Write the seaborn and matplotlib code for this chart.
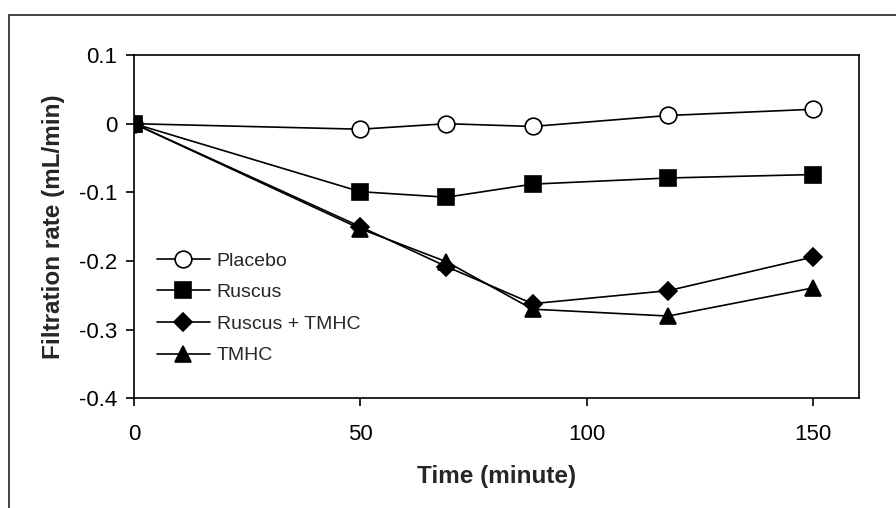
import pandas as pd
import seaborn as sns
import matplotlib.pyplot as plt
from matplotlib.patches import Rectangle

# data
time = [0, 50, 69, 88, 118, 150]
placebo = [0.0, -0.008, 0.0, -0.004, 0.012, 0.021]
ruscus = [0.0, -0.099, -0.107, -0.088, -0.079, -0.074]
ruscus_tmhc = [0.0, -0.150, -0.208, -0.262, -0.243, -0.194]
tmhc = [0.0, -0.153, -0.201, -0.270, -0.280, -0.239]

series = {
    "Placebo": placebo,
    "Ruscus": ruscus,
    "Ruscus + TMHC": ruscus_tmhc,
    "TMHC": tmhc,
}

rows = []
for name, vals in series.items():
    for t, v in zip(time, vals):
        rows.append({"group": name, "time": t, "rate": v})
df = pd.DataFrame(rows)

sns.set_style("ticks")
plt.rcParams["font.family"] = ["Liberation Sans", "DejaVu Sans"]

fig = plt.figure(figsize=(8.96, 5.08), dpi=100)
ax = fig.add_axes([0.1496, 0.2156, 0.9582 - 0.1496, 0.8917 - 0.2156])

styles = {
    "Placebo": dict(marker="o", markersize=12, markerfacecolor="white"),
    "Ruscus": dict(marker="s", markersize=11, markerfacecolor="black"),
    "Ruscus + TMHC": dict(marker="D", markersize=9, markerfacecolor="black"),
    "TMHC": dict(marker="^", markersize=12, markerfacecolor="black"),
}

for name in series:
    sub = df[df["group"] == name]
    sns.lineplot(data=sub, x="time", y="rate", ax=ax, color="black",
                 linewidth=1.2, markeredgecolor="black", markeredgewidth=1.2,
                 label=name, **styles[name])

ax.set_xlim(0, 160)
ax.set_ylim(-0.4, 0.1)
ax.set_xticks([0, 50, 100, 150])
ax.set_yticks([0.1, 0, -0.1, -0.2, -0.3, -0.4])
ax.set_yticklabels(["0.1", "0", "-0.1", "-0.2", "-0.3", "-0.4"])

for side in ["left", "bottom", "top", "right"]:
    ax.spines[side].set_linewidth(1.2)
    ax.spines[side].set_color("black")
ax.tick_params(axis="both", direction="out", length=6, width=1.2,
               labelsize=16, colors="black")
ax.tick_params(axis="x", pad=12.5)
ax.tick_params(axis="y", pad=6)

ax.set_xlabel("Time (minute)", fontsize=17.5, fontweight="bold", labelpad=14)
ax.set_ylabel("Filtration rate (mL/min)", fontsize=17.5, fontweight="bold",
              labelpad=10)

ax.legend(loc="center left", bbox_to_anchor=(0.032, 0.263), frameon=False,
          fontsize=14, handlelength=2.7, handletextpad=0.35, labelspacing=0.72,
          borderpad=0, borderaxespad=0)

# outer frame around the figure
fig.add_artist(Rectangle((9 / 896, -0.05), 1.1, 1 - 15 / 508 + 0.05,
                         transform=fig.transFigure, fill=False,
                         linewidth=1.4, edgecolor="#444444"))

fig.savefig("out.png", dpi=100)
